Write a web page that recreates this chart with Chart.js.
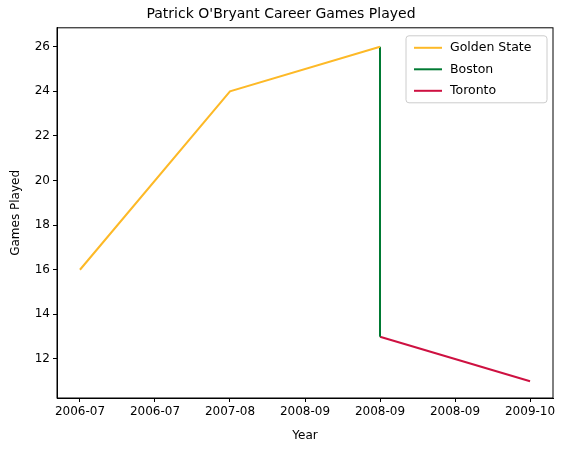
<!DOCTYPE html>
<html>
<head>
<meta charset="utf-8">
<script src="https://cdn.jsdelivr.net/npm/chart.js@4"></script>
<style>
  body { margin: 0; background: #fff; }
  #wrap { width: 569px; height: 453px; }
</style>
</head>
<body>
<div id="wrap"><canvas id="grafico" width="569" height="453"></canvas></div>
<script>
// data
const tickLabels = ['2006-07', '2006-07', '2007-08', '2008-09', '2008-09', '2008-09', '2009-10'];
const goldenX = [0, 1, 2];
const goldenY = [16, 24, 26];
const bostonX = [2, 2];
const bostonY = [26, 13];
const torontoX = [2, 3];
const torontoY = [13, 11];
const seriesNames = ['Golden State', 'Boston', 'Toronto'];
const seriesColors = ['#FDB927', '#007A33', '#CE1141'];

function puntos(xs, ys) {
    return xs.map((x, i) => ({ x: x, y: ys[i] }));
}

const fuente = "'DejaVu Sans', sans-serif";

// caja del grafico + leyenda estilo matplotlib
const marco = {
    id: 'marco',
    afterDraw(chart) {
        const { ctx, chartArea: a } = chart;
        ctx.save();
        ctx.strokeStyle = '#000';
        ctx.lineWidth = 1;
        ctx.strokeRect(a.left, a.top, a.right - a.left, a.bottom - a.top);

        const w = 141, h = 67;
        const x0 = a.right - w - 6, y0 = a.top + 8;
        ctx.fillStyle = 'rgba(255,255,255,0.8)';
        ctx.strokeStyle = '#ccc';
        ctx.beginPath();
        ctx.roundRect(x0, y0, w, h, 3);
        ctx.fill();
        ctx.stroke();
        ctx.font = '12.5px ' + fuente;
        ctx.textBaseline = 'middle';
        seriesNames.forEach((n, i) => {
            const y = y0 + 12 + i * 21.5;
            ctx.strokeStyle = seriesColors[i];
            ctx.lineWidth = 2;
            ctx.beginPath();
            ctx.moveTo(x0 + 8, y);
            ctx.lineTo(x0 + 36, y);
            ctx.stroke();
            ctx.fillStyle = '#000';
            ctx.fillText(n, x0 + 44, y);
        });
        ctx.restore();
    }
};

const ctx = document.getElementById('grafico').getContext('2d');
new Chart(ctx, {
    type: 'line',
    data: {
        datasets: [
            { label: seriesNames[0], data: puntos(goldenX, goldenY), borderColor: seriesColors[0] },
            { label: seriesNames[1], data: puntos(bostonX, bostonY), borderColor: seriesColors[1] },
            { label: seriesNames[2], data: puntos(torontoX, torontoY), borderColor: seriesColors[2] }
        ]
    },
    options: {
        responsive: false,
        animation: false,
        elements: {
            point: { radius: 0 },
            line: { borderWidth: 2, tension: 0 }
        },
        layout: { padding: { right: 16, left: 9, bottom: 10 } },
        scales: {
            x: {
                type: 'linear',
                min: -0.153,
                max: 3.153,
                afterBuildTicks(scale) {
                    scale.ticks = tickLabels.map((t, i) => ({ value: i * 0.5 }));
                },
                afterFit(scale) { scale.height = 45; },
                ticks: {
                    color: '#000',
                    font: { family: fuente, size: 12 },
                    maxRotation: 0,
                    callback: (v, i) => tickLabels[i]
                },
                grid: { drawOnChartArea: false, tickLength: 4, color: '#000' },
                border: { color: '#000' },
                title: { display: true, text: 'Year', color: '#000', font: { family: fuente, size: 12 }, padding: 0 }
            },
            y: {
                min: 10.25,
                max: 26.85,
                afterBuildTicks(scale) {
                    scale.ticks = [12, 14, 16, 18, 20, 22, 24, 26].map(v => ({ value: v }));
                },
                afterFit(scale) { scale.width = 48; },
                ticks: { color: '#000', font: { family: fuente, size: 12 } },
                grid: { drawOnChartArea: false, tickLength: 4, color: '#000' },
                border: { color: '#000' },
                title: { display: true, text: 'Games Played', color: '#000', font: { family: fuente, size: 12 }, padding: 0 }
            }
        },
        plugins: {
            legend: { display: false },
            tooltip: { enabled: false },
            title: {
                display: true,
                text: "Patrick O'Bryant Career Games Played",
                color: '#000',
                font: { family: fuente, size: 14, weight: 'normal' },
                padding: { top: 6, bottom: 5 }
            }
        }
    },
    plugins: [marco]
});
</script>
</body>
</html>
